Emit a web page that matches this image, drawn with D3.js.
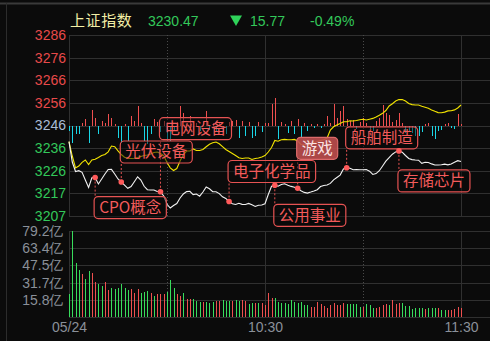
<!DOCTYPE html>
<html>
<head>
<meta charset="utf-8">
<script src="https://cdn.jsdelivr.net/npm/d3@7"></script>
<style>
  html, body { margin: 0; padding: 0; background: #0b0b0b; overflow: hidden; }
  svg { display: block; }
</style>
</head>
<body>
<svg id="chart" width="490" height="341"></svg>
<script>
// ---- Shanghai Composite, morning session of 05/24 (one point per minute, 09:30 .. 11:30) ----
const indexName = "上证指数";
const prevClose = 3246.24;
const lastPrice = 3230.47;
const change = -15.77;
const changePct = -0.49;

// index price per minute (white line)
const price = [
  3239.15, 3230.27, 3226.11, 3226.46, 3225.76, 3222.39, 3219.11, 3223.35, 3223.44, 3220.64,
  3222.83, 3225.02, 3226.99, 3227.03, 3225.02, 3222.83, 3221.52, 3220.12, 3218.76, 3219.50,
  3221.65, 3223.79, 3222.39, 3219.64, 3218.15, 3218.02, 3218.02, 3217.36, 3217.27, 3215.39,
  3211.76, 3210.14, 3211.23, 3212.11, 3214.52, 3216.27, 3217.32, 3217.45, 3216.00, 3216.27,
  3215.30, 3217.14, 3219.33, 3218.54, 3217.27, 3217.23, 3216.44, 3215.04, 3214.34, 3212.99,
  3211.98, 3211.67, 3212.20, 3211.72, 3211.67, 3212.15, 3211.54, 3210.80, 3211.37, 3211.45,
  3211.98, 3216.05, 3219.64, 3220.07, 3219.68, 3220.42, 3220.73, 3220.07, 3219.59, 3219.24,
  3218.76, 3217.67, 3216.97, 3216.66, 3217.10, 3217.58, 3218.15, 3219.55, 3219.99, 3220.20,
  3220.90, 3222.48, 3223.49, 3224.54, 3227.21, 3227.73, 3227.51, 3226.86, 3226.94, 3226.86,
  3226.86, 3226.94, 3226.24, 3224.80, 3225.19, 3226.46, 3228.52, 3230.62, 3232.19, 3233.68,
  3234.69, 3235.13, 3234.56, 3233.11, 3231.80, 3231.32, 3231.14, 3231.05, 3229.70, 3230.18,
  3230.05, 3229.44, 3228.96, 3228.96, 3229.09, 3229.35, 3229.00, 3229.40, 3230.18, 3230.84,
  3230.47
];

// leading (equal-weight) line per minute (yellow line)
const leading = [
  3239.15, 3232.89, 3227.64, 3228.52, 3230.14, 3231.14, 3229.17, 3231.14, 3231.45, 3232.24,
  3233.11, 3233.55, 3234.73, 3237.27, 3236.96, 3235.17, 3233.55, 3232.37, 3231.89, 3231.80,
  3231.89, 3232.24, 3232.67, 3233.11, 3233.33, 3233.77, 3234.43, 3234.64, 3233.99, 3233.11,
  3230.05, 3227.73, 3226.55, 3227.42, 3230.71, 3233.55, 3235.08, 3235.08, 3235.96, 3235.30,
  3235.30, 3235.74, 3236.96, 3238.06, 3238.67, 3239.02, 3238.23, 3236.96, 3235.74, 3234.86,
  3233.99, 3233.11, 3232.11, 3231.80, 3232.02, 3232.02, 3231.36, 3231.80, 3232.02, 3232.46,
  3233.11, 3234.64, 3236.61, 3239.68, 3239.37, 3239.98, 3240.16, 3239.98, 3240.03, 3240.16,
  3239.46, 3237.93, 3237.80, 3238.06, 3238.32, 3238.71, 3239.20, 3239.68, 3240.03, 3240.77,
  3244.27, 3245.67, 3246.46, 3247.16, 3247.86, 3247.90, 3248.30, 3248.21, 3248.43, 3248.73,
  3248.95, 3248.65, 3249.00, 3249.35, 3249.96, 3250.70, 3251.58, 3252.80, 3254.77, 3255.78,
  3256.96, 3257.57, 3257.62, 3256.96, 3255.91, 3255.38, 3255.21, 3255.21, 3254.69, 3254.25,
  3253.77, 3253.07, 3252.45, 3251.88, 3251.84, 3252.10, 3252.63, 3252.72, 3253.07, 3253.90,
  3255.21
];

// buy/sell strength bars around the previous close (+ red, - cyan)
const strength = [
  -5, -17, -8, -8, 3, 7, -17, 16, 8, -8,
  5, 3, 12, 8, 2, -12, -17, 2, -15, 10,
  5, 20, 3, -15, -18, -8, 7, 4, -6, 5,
  -14, -15, -5, 4, 20, 13, 3, 10, -4, 3,
  -5, 4, 15, -4, 3, -5, 3, -6, -8, 4,
  5, 6, -12, 5, -10, 4, -12, -10, 4, -6,
  3, 3, 22, 28, -13, 4, 2, -7, 5, -8,
  7, -12, 3, -5, 2, -2, 2, -2, 2, 10,
  3, 22, 8, 15, 20, 7, 5, 6, -3, 4,
  8, 3, -3, -5, 5, 8, 21, 13, 11, 4,
  6, 13, 3, -7, -5, -7, -10, -10, -6, 2,
  3, -10, -13, -5, -4, 2, 3, -2, -3, 12,
  2
];

// turnover per minute, 亿元
const turnover = [
  21.2, 79.2, 50.0, 43.3, 39.6, 35.0, 42.7, 40.8, 32.2, 30.7,
  28.5, 32.2, 24.9, 26.4, 25.8, 26.4, 30.4, 26.7, 24.6, 25.8,
  22.4, 25.5, 22.4, 22.7, 23.9, 22.4, 19.3, 21.2, 21.2, 21.2,
  23.3, 34.1, 26.7, 21.2, 19.3, 22.4, 16.3, 16.3, 16.3, 14.7,
  13.8, 14.1, 13.8, 13.2, 13.8, 15.0, 15.0, 15.7, 15.0, 14.7,
  15.0, 15.7, 14.7, 15.7, 15.0, 12.0, 12.6, 13.2, 12.6, 12.6,
  11.1, 22.4, 17.8, 17.5, 13.8, 13.2, 12.6, 12.3, 15.7, 13.5,
  13.2, 14.1, 11.1, 10.7, 8.9, 9.2, 13.8, 11.7, 10.1, 8.6,
  11.1, 12.9, 11.4, 11.1, 13.2, 11.7, 11.7, 12.0, 12.0, 8.9,
  9.5, 12.0, 10.7, 8.3, 8.0, 8.9, 10.7, 12.0, 10.7, 15.7,
  12.3, 12.9, 12.9, 10.4, 10.1, 7.4, 8.0, 8.3, 8.3, 7.7,
  8.0, 8.0, 8.6, 8.0, 6.8, 6.4, 6.4, 6.1, 7.1, 9.2,
  8.3
];

// minute direction for the turnover colour: u = up (red), d = down (green)
const turnoverSide = [
  "ddddudduud", "duuddddddu", "uuddduduuu", "ddduuduudd", "duddduuddd",
  "udduuddudu", "uuuddddddd", "dddduuuuuu", "uuuuuddddd", "uddduuuudu",
  "uudddddddu", "dddudduuuu", "u"
].join("").split("");

// axis ticks
const priceTickValues = [3285.84, 3275.94, 3266.04, 3256.14, 3246.24, 3236.34, 3226.44, 3216.54, 3206.64];
const priceTickLabels = ["3286", "3276", "3266", "3256", "3246", "3236", "3226", "3217", "3207"];
const volumeTickValues = [79.2, 63.4, 47.5, 31.7, 15.8, 0];
const volumeTickLabels = ["79.2亿", "63.4亿", "47.5亿", "31.7亿", "15.8亿", ""];
const timeTickMinutes = [0, 60, 120];
const timeTickLabels = ["05/24", "10:30", "11:30"];
const halfHourMinutes = [30, 90];

// sector event tags pinned to the price line
const tagNames = ["CPO概念", "光伏设备", "电网设备", "电子化学品", "公用事业", "游戏", "船舶制造", "存储芯片"];
const tagMinutes = [8, 16, 28, 49, 63, 70, 85, 101];
const tagSides = ["below", "above", "above", "above", "below", "above", "above", "below"];
const highlightedTag = "游戏";

// ---- drawing ----
const W = 490, H = 341;
const svg = d3.select("#chart");

const COL = {
  bg: "#0b0b0b",
  grid: "#303030",
  frame: "#3a3a3a",
  red: "#ef4f4f",
  green: "#38dc5c",
  cyan: "#19d6e6",
  yellow: "#f2e300",
  white: "#f2f2f2",
  axisRed: "#e84a4a",
  axisGreen: "#33c85a",
  axisFlat: "#a9bdd6",
  axisGray: "#8a9099",
  tag: "#e65353",
  tagText: "#f35b5b"
};
const latin = "'Liberation Sans', Arial, sans-serif";
const cjk = "'Noto Sans CJK SC', 'Noto Sans', sans-serif";

svg.append("rect").attr("width", W).attr("height", H).attr("fill", COL.bg);

// outer frame strokes
svg.append("line").attr("x1", 0).attr("x2", W).attr("y1", 3.5).attr("y2", 3.5)
  .attr("stroke", COL.frame).attr("stroke-width", 2);
svg.append("line").attr("x1", 6.5).attr("x2", 6.5).attr("y1", 3).attr("y2", H)
  .attr("stroke", "#2c2c2c").attr("stroke-width", 1);

const plotLeft = 69, plotRight = W;
const x = d3.scaleLinear().domain([0, 120]).range([69, 461]);
const y = d3.scaleLinear().domain([priceTickValues[8], priceTickValues[0]]).range([216, 35]);
const yVol = d3.scaleLinear().domain([0, 79.2]).range([317, 231]);
const baseY = y(prevClose);
const yStr = d3.scaleLinear().domain([-30, 30]).range([baseY + 30, baseY - 30]);

// ---- grids ----
const grid = svg.append("g").attr("shape-rendering", "crispEdges");
grid.selectAll(".hp").data(priceTickValues).join("line")
  .attr("x1", plotLeft).attr("x2", plotRight)
  .attr("y1", d => Math.round(y(d)) + 0.5).attr("y2", d => Math.round(y(d)) + 0.5)
  .attr("stroke", COL.grid);
grid.selectAll(".hv").data(volumeTickValues).join("line")
  .attr("x1", plotLeft).attr("x2", plotRight)
  .attr("y1", d => Math.round(yVol(d)) + 0.5).attr("y2", d => Math.round(yVol(d)) + 0.5)
  .attr("stroke", COL.grid);
[[35, 216], [231, 317]].forEach(([t, b]) => {
  grid.selectAll(null).data(timeTickMinutes).join("line")
    .attr("x1", d => Math.round(x(d)) + 0.5).attr("x2", d => Math.round(x(d)) + 0.5)
    .attr("y1", t).attr("y2", b).attr("stroke", COL.grid);
  grid.selectAll(null).data(halfHourMinutes).join("line")
    .attr("x1", d => Math.round(x(d)) + 0.5).attr("x2", d => Math.round(x(d)) + 0.5)
    .attr("y1", t).attr("y2", b).attr("stroke", "#4a4a4a").attr("stroke-dasharray", "1,2");
});

// ---- axes ----
const priceAxis = svg.append("g").attr("transform", `translate(${plotLeft},0)`)
  .call(d3.axisLeft(y).tickValues(priceTickValues)
    .tickFormat((d, i) => priceTickLabels[i]).tickSize(0).tickPadding(3));
priceAxis.select(".domain").remove();
priceAxis.selectAll("text")
  .attr("font-family", latin).attr("font-size", 14)
  .attr("fill", d => d > prevClose + 0.01 ? COL.axisRed : (d < prevClose - 0.01 ? COL.axisGreen : COL.axisFlat));

const volAxis = svg.append("g").attr("transform", `translate(${plotLeft},0)`)
  .call(d3.axisLeft(yVol).tickValues(volumeTickValues)
    .tickFormat((d, i) => volumeTickLabels[i]).tickSize(0).tickPadding(5.5));
volAxis.select(".domain").remove();
volAxis.selectAll("text").attr("font-family", latin).attr("font-size", 14).attr("fill", COL.axisGray);

const timeAxis = svg.append("g").attr("transform", "translate(0,317)")
  .call(d3.axisBottom(x).tickValues(timeTickMinutes)
    .tickFormat((d, i) => timeTickLabels[i]).tickSize(0).tickPadding(5));
timeAxis.select(".domain").remove();
timeAxis.selectAll("text").attr("font-family", latin).attr("font-size", 14).attr("fill", COL.axisGray);

// ---- strength bars ----
svg.append("g").attr("shape-rendering", "crispEdges")
  .selectAll("line").data(strength).join("line")
  .attr("x1", (d, i) => Math.round(x(i)) + 0.5).attr("x2", (d, i) => Math.round(x(i)) + 0.5)
  .attr("y1", yStr(0)).attr("y2", d => yStr(d))
  .attr("stroke", d => d >= 0 ? COL.red : COL.cyan).attr("stroke-width", 1);

// ---- turnover bars ----
svg.append("g").attr("shape-rendering", "crispEdges")
  .selectAll("line").data(turnover).join("line")
  .attr("x1", (d, i) => Math.round(x(i)) + 0.5).attr("x2", (d, i) => Math.round(x(i)) + 0.5)
  .attr("y1", yVol(0)).attr("y2", d => yVol(d))
  .attr("stroke", (d, i) => turnoverSide[i] === "u" ? COL.red : COL.green).attr("stroke-width", 1);

// ---- lines ----
const lineGen = d3.line().x((d, i) => x(i)).y(d => y(d));
svg.append("path").datum(leading).attr("d", lineGen)
  .attr("fill", "none").attr("stroke", COL.yellow).attr("stroke-width", 1.1);
svg.append("path").datum(price).attr("d", lineGen)
  .attr("fill", "none").attr("stroke", COL.white).attr("stroke-width", 1.1);

// ---- tags ----
const leaderLen = { "电网设备": 52, "游戏": 29 };
const tagLayer = svg.append("g");
const leaderLayer = tagLayer.append("g");
const boxLayer = tagLayer.append("g");
const dotLayer = tagLayer.append("g");

tagNames.forEach((name, k) => {
  const m = tagMinutes[k];
  const px = x(m), py = y(price[m]);
  const len = leaderLen[name] || 19;
  const boxH = 22;
  const pad = 5;
  const above = tagSides[k] === "above";
  const boxTop = above ? py - len - boxH : py + len;
  const hi = name === highlightedTag;

  leaderLayer.append("line")
    .attr("x1", px).attr("x2", px)
    .attr("y1", py).attr("y2", above ? boxTop + boxH : boxTop)
    .attr("stroke", COL.tag).attr("stroke-width", 1).attr("stroke-dasharray", "2,2");

  const g = boxLayer.append("g");
  const rect = g.append("rect");
  const txt = g.append("text")
    .attr("x", px - 1 + pad).attr("y", boxTop + boxH / 2 + 5.5)
    .attr("font-family", cjk).attr("font-size", 15.5)
    .attr("fill", hi ? "#fbe3e3" : COL.tagText)
    .text(name);
  const tw = txt.node().getComputedTextLength();
  rect.attr("x", px - 1).attr("y", boxTop).attr("width", tw + pad * 2).attr("height", boxH)
    .attr("rx", 4).attr("ry", 4)
    .attr("fill", hi ? "rgba(190,78,78,0.9)" : "rgba(10,10,10,0.5)")
    .attr("stroke", hi ? "#dc6a6a" : COL.tag).attr("stroke-width", 1.2);

  dotLayer.append("circle").attr("cx", px).attr("cy", py).attr("r", 2.8).attr("fill", "#ff5a5a");
});

// ---- header ----
const head = svg.append("g");
head.append("text").attr("x", 70).attr("y", 25.5)
  .attr("font-family", cjk).attr("font-size", 15).attr("letter-spacing", 0.6)
  .attr("fill", "#f3efa6").text(indexName);
head.append("text").attr("x", 148).attr("y", 25.5)
  .attr("font-family", latin).attr("font-size", 14).attr("fill", COL.axisGreen)
  .text(lastPrice.toFixed(2));
head.append("path").attr("d", "M230,15.5 L242,15.5 L236,26 Z").attr("fill", "#2fd35a");
head.append("text").attr("x", 250).attr("y", 25.5)
  .attr("font-family", latin).attr("font-size", 14).attr("fill", COL.axisGreen)
  .text(Math.abs(change).toFixed(2));
head.append("text").attr("x", 310).attr("y", 25.5)
  .attr("font-family", latin).attr("font-size", 14).attr("fill", COL.axisGreen)
  .text(changePct.toFixed(2) + "%");
</script>
</body>
</html>
